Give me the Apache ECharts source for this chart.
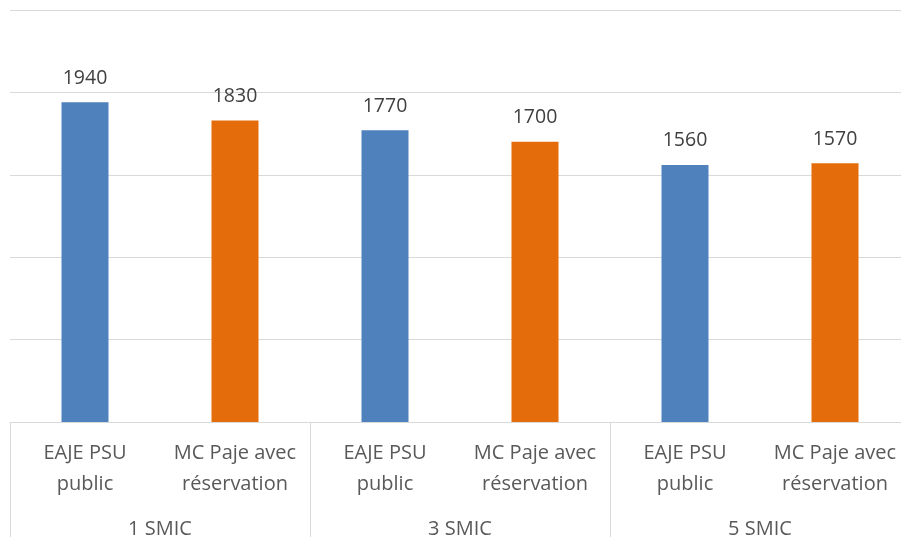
<!DOCTYPE html>
<html>
<head>
<meta charset="utf-8">
<script src="https://cdn.jsdelivr.net/npm/echarts@6/dist/echarts.min.js"></script>
<style>
html,body{margin:0;padding:0;background:#fff;overflow:hidden;}
#chart{width:901px;height:537px;}
</style>
</head>
<body>
<div id="chart"></div>
<script>
const groups = ['1 SMIC', '3 SMIC', '5 SMIC'];
const subCategories = ['EAJE PSU\npublic', 'MC Paje avec\nréservation'];
const eajeValues = [1940, 1770, 1560];
const mcPajeValues = [1830, 1700, 1570];
const yTicks = [0, 500, 1000, 1500, 2000, 2500];

const categories = [];
const eajeData = [];
const mcData = [];
groups.forEach((g, i) => {
  categories.push(subCategories[0], subCategories[1]);
  eajeData.push(eajeValues[i], '-');
  mcData.push('-', mcPajeValues[i]);
});

const font = '"Open Sans", "Noto Sans", sans-serif';
const chart = echarts.init(document.getElementById('chart'));
chart.setOption({
  animation: false,
  grid: { left: 10, top: 10, width: 900, bottom: 115, containLabel: false, outerBoundsMode: 'none' },
  xAxis: [
    {
      type: 'category', data: categories, position: 'bottom',
      axisLine: { show: true, lineStyle: { color: '#d9d9d9', width: 1 } },
      axisTick: { show: false },
      axisLabel: { interval: 0, color: '#595959', fontFamily: font, fontSize: 20, lineHeight: 31, margin: 16 }
    },
    {
      type: 'category', data: groups, position: 'bottom', offset: 0,
      axisLine: { show: false },
      axisTick: { show: true, length: 115, interval: 0, lineStyle: { color: '#d9d9d9', width: 1 } },
      axisLabel: { interval: 0, color: '#595959', fontFamily: font, fontSize: 20, lineHeight: 22, margin: 96 }
    }
  ],
  yAxis: {
    type: 'value', min: yTicks[0], max: yTicks[yTicks.length - 1], interval: 500,
    axisLabel: { show: false }, axisLine: { show: false }, axisTick: { show: false },
    splitLine: { lineStyle: { color: '#d9d9d9', width: 1 } }
  },
  series: [
    {
      name: 'EAJE PSU public', type: 'bar', data: eajeData, barWidth: 47, barGap: '-100%',
      itemStyle: { color: '#4f81bd' },
      label: { show: true, position: 'top', distance: 14, color: '#404040', fontFamily: font, fontSize: 19.5 }
    },
    {
      name: 'MC Paje avec réservation', type: 'bar', data: mcData, barWidth: 47,
      itemStyle: { color: '#e46c0a' },
      label: { show: true, position: 'top', distance: 14, color: '#404040', fontFamily: font, fontSize: 19.5 }
    }
  ]
});
</script>
</body>
</html>
